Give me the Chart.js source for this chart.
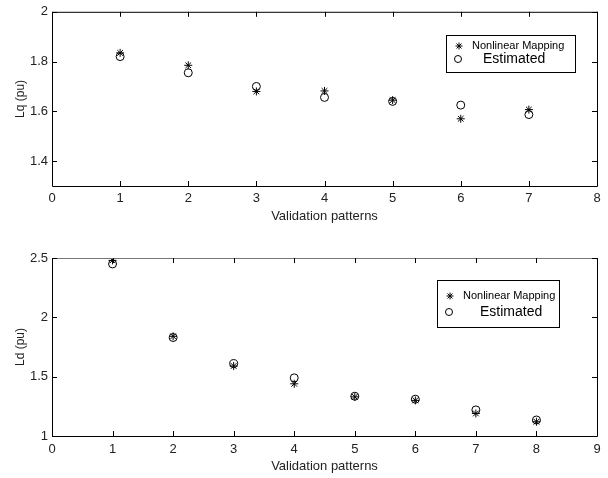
<!DOCTYPE html>
<html>
<head>
<meta charset="utf-8">
<script src="https://cdn.jsdelivr.net/npm/chart.js@4.4.0/dist/chart.umd.min.js"></script>
<style>
  body { margin: 0; background: #fff; }
  canvas { display: block; }
</style>
</head>
<body>
<canvas id="lqCanvas" width="608" height="239"></canvas>
<canvas id="ldCanvas" width="608" height="239"></canvas>
<script>
// Lq plot (top)
const lqPatterns = [1, 2, 3, 4, 5, 6, 7];
const lqMapping = [1.835, 1.785, 1.68, 1.682, 1.645, 1.57, 1.607];
const lqEstimated = [1.82, 1.755, 1.70, 1.656, 1.64, 1.625, 1.587];
const lqTicks = [1.4, 1.6, 1.8, 2];

// Ld plot (bottom)
const ldPatterns = [1, 2, 3, 4, 5, 6, 7, 8];
const ldMapping = [2.48, 1.84, 1.59, 1.44, 1.33, 1.30, 1.19, 1.12];
const ldEstimated = [2.45, 1.83, 1.61, 1.49, 1.335, 1.31, 1.22, 1.135];
const ldTicks = [1, 1.5, 2, 2.5];

const legendLabels = ["Nonlinear Mapping", "Estimated"];
const xTitle = "Validation patterns";

const font = "'Liberation Sans', Arial, sans-serif";

function drawStar(ctx, x, y, r) {
  ctx.beginPath();
  ctx.moveTo(x - r, y); ctx.lineTo(x + r, y);
  ctx.moveTo(x, y - r); ctx.lineTo(x, y + r);
  const d = r * 0.707;
  ctx.moveTo(x - d, y - d); ctx.lineTo(x + d, y + d);
  ctx.moveTo(x - d, y + d); ctx.lineTo(x + d, y - d);
  ctx.stroke();
}

// box round the plot with inward ticks, matlab style
const frame = {
  id: "frame",
  afterDraw(chart, args, opts) {
    const ctx = chart.ctx;
    const a = chart.chartArea;
    const xs = chart.scales.x, ys = chart.scales.y;
    ctx.save();
    ctx.lineWidth = 1;
    ctx.strokeStyle = "#000";
    ctx.beginPath();
    ctx.moveTo(a.left + 0.5, a.top + 0.5);
    ctx.lineTo(a.left + 0.5, a.bottom + 0.5);
    ctx.lineTo(a.right + 0.5, a.bottom + 0.5);
    ctx.lineTo(a.right + 0.5, a.top + 0.5);
    ctx.stroke();
    ctx.strokeStyle = opts.topColor || "#000";
    ctx.beginPath();
    ctx.moveTo(a.left, a.top + 0.5);
    ctx.lineTo(a.right + 1, a.top + 0.5);
    ctx.stroke();
    ctx.strokeStyle = "#000";
    ctx.beginPath();
    xs.ticks.forEach(t => {
      const px = Math.round(xs.getPixelForValue(t.value)) + 0.5;
      ctx.moveTo(px, a.bottom); ctx.lineTo(px, a.bottom - 5);
      ctx.moveTo(px, a.top); ctx.lineTo(px, a.top + 5);
    });
    ys.ticks.forEach(t => {
      const py = Math.round(ys.getPixelForValue(t.value)) + 0.5;
      ctx.moveTo(a.left, py); ctx.lineTo(a.left + 5, py);
      ctx.moveTo(a.right, py); ctx.lineTo(a.right - 5, py);
    });
    ctx.stroke();
    ctx.restore();
  }
};

const legendBox = {
  id: "legendBox",
  afterDraw(chart, args, o) {
    const ctx = chart.ctx;
    ctx.save();
    ctx.fillStyle = "#fff";
    ctx.fillRect(o.x, o.y, o.w, o.h);
    ctx.strokeStyle = "#000";
    ctx.lineWidth = 1;
    ctx.strokeRect(o.x + 0.5, o.y + 0.5, o.w, o.h);
    ctx.fillStyle = "#000";
    ctx.textBaseline = "middle";
    drawStar(ctx, o.x + 13, o.y1, 3.5);
    ctx.beginPath();
    ctx.arc(o.x + 12, o.y2, 3.5, 0, Math.PI * 2);
    ctx.stroke();
    ctx.font = "11px " + font;
    ctx.fillText(legendLabels[0], o.x + 26, o.y1);
    ctx.font = "14px " + font;
    ctx.fillText(legendLabels[1], o.x + o.t2, o.y2);
    ctx.restore();
  }
};

function makeChart(canvas, xs, mapping, estimated, c) {
  return new Chart(canvas, {
    type: "scatter",
    data: {
      datasets: [
        {
          label: legendLabels[0],
          data: xs.map((x, i) => ({ x: x, y: mapping[i] })),
          pointStyle: "star",
          radius: 4,
          borderColor: "#000",
          borderWidth: 1
        },
        {
          label: legendLabels[1],
          data: xs.map((x, i) => ({ x: x, y: estimated[i] })),
          pointStyle: "circle",
          radius: 4,
          borderColor: "#000",
          backgroundColor: "rgba(0,0,0,0)",
          borderWidth: 1
        }
      ]
    },
    options: {
      responsive: false,
      animation: false,
      devicePixelRatio: 1,
      layout: { padding: { top: c.top, right: 11, left: 0, bottom: 0 } },
      plugins: {
        legend: { display: false },
        tooltip: { enabled: false },
        frame: { topColor: c.topColor },
        legendBox: c.legend
      },
      scales: {
        x: {
          type: "linear",
          min: 0,
          max: c.xMax,
          ticks: { stepSize: 1, padding: c.xPad, color: "#222", font: { family: font, size: 13 } },
          grid: { display: false, drawTicks: false },
          border: { display: false },
          title: { display: true, text: xTitle, color: "#222", font: { family: font, size: 13 }, padding: { bottom: c.titlePad } },
          afterFit: s => { s.height = c.xHeight; }
        },
        y: {
          type: "linear",
          min: c.yMin,
          max: c.yMax,
          afterBuildTicks: s => { s.ticks = c.yTicks.map(v => ({ value: v })); },
          ticks: { padding: 4, color: "#222", font: { family: font, size: 13 }, callback: v => String(v) },
          grid: { display: false, drawTicks: false },
          border: { display: false },
          title: { display: true, text: c.yTitle, color: "#222", font: { family: font, size: 12 }, padding: { top: 13 } },
          afterFit: s => { s.width = 52; }
        }
      }
    },
    plugins: [frame, legendBox]
  });
}

makeChart(document.getElementById("lqCanvas"), lqPatterns, lqMapping, lqEstimated, {
  top: 8, xMax: 8, xHeight: 53, xPad: 5, titlePad: 15,
  yMin: 1.3, yMax: 2, yTicks: lqTicks, yTitle: "Lq (pu)", topColor: "#000",
  legend: { x: 446, y: 35, w: 129, h: 37, y1: 46, y2: 59, t2: 37 }
});

makeChart(document.getElementById("ldCanvas"), ldPatterns, ldMapping, ldEstimated, {
  top: 19, xMax: 9, xHeight: 42, xPad: 6, titlePad: 4,
  yMin: 1, yMax: 2.5, yTicks: ldTicks, yTitle: "Ld (pu)", topColor: "#777",
  legend: { x: 437, y: 41, w: 122, h: 47, y1: 57, y2: 73, t2: 43 }
});
</script>
</body>
</html>
